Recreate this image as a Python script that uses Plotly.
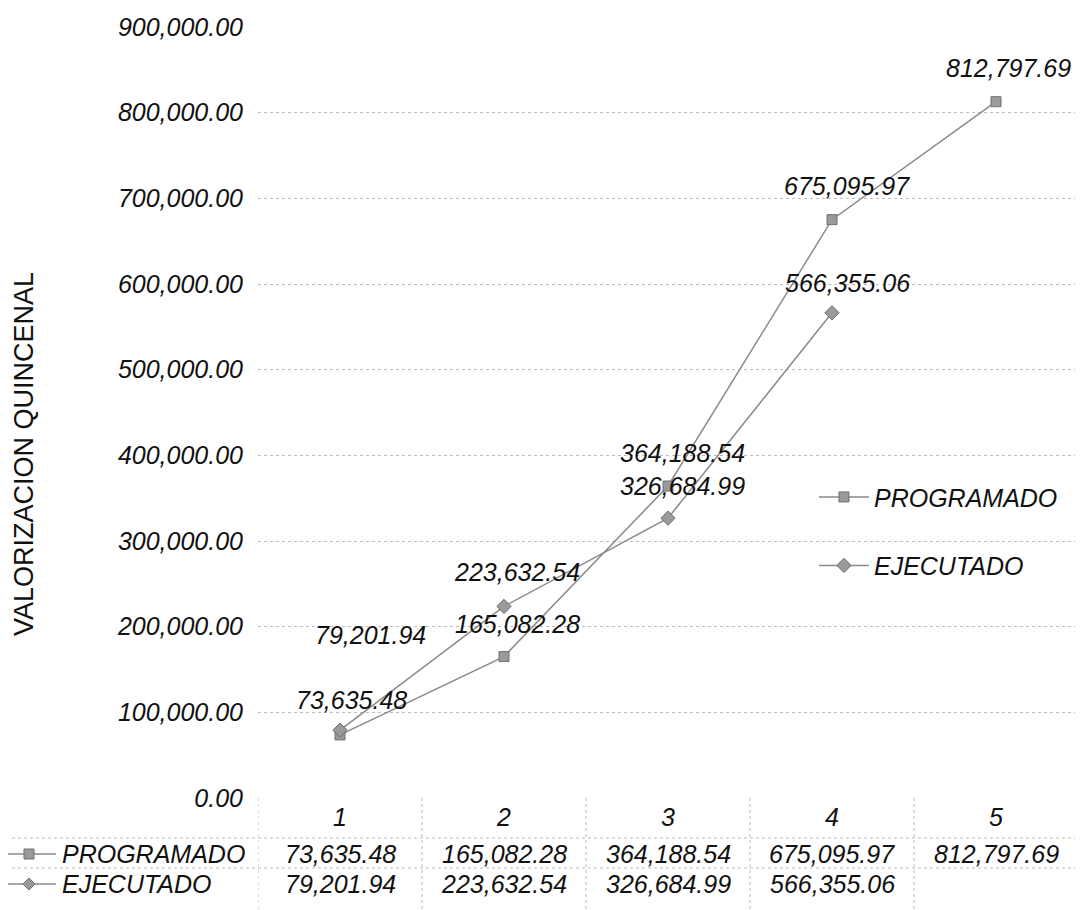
import plotly.graph_objects as go

# ---- data ----
categories = [1, 2, 3, 4, 5]
programado = [73635.48, 165082.28, 364188.54, 675095.97, 812797.69]
ejecutado = [79201.94, 223632.54, 326684.99, 566355.06]
series_names = ["PROGRAMADO", "EJECUTADO"]
y_ticks = [0, 100000, 200000, 300000, 400000, 500000, 600000, 700000, 800000, 900000]
y_title = "VALORIZACION QUINCENAL"

# label pixel offsets (style)
prog_shift = [(11, 35), (13, 33), (14, 33), (15, 34), (12, 34)]
ejec_shift = [(30, 95), (13, 34), (14, 32), (15, 30)]

FONT = "Liberation Sans, Arial, sans-serif"
LINE_COL = "#8a8a8a"
MARK_COL = "#9a9a9a"
TXT = "#111111"

fig = go.Figure()
fig.add_trace(go.Scatter(
    x=categories, y=programado, name=series_names[0], mode="lines+markers",
    line=dict(color=LINE_COL, width=1.5),
    marker=dict(symbol="square", size=10, color=MARK_COL, line=dict(color="#6f6f6f", width=1)),
    legendgroup="p"))
fig.add_trace(go.Scatter(
    x=categories[:len(ejecutado)], y=ejecutado, name=series_names[1], mode="lines+markers",
    line=dict(color=LINE_COL, width=1.5),
    marker=dict(symbol="diamond", size=11, color=MARK_COL, line=dict(color="#6f6f6f", width=1)),
    legendgroup="e"))

ann = []
# data labels
for xv, yv, (dx, dy) in zip(categories, programado, prog_shift):
    ann.append(dict(x=xv, y=yv, xref="x", yref="y", text=f"{yv:,.2f}", showarrow=False,
                    xshift=dx, yshift=dy, font=dict(family=FONT, size=25, color=TXT, style="italic")))
for xv, yv, (dx, dy) in zip(categories, ejecutado, ejec_shift):
    ann.append(dict(x=xv, y=yv, xref="x", yref="y", text=f"{yv:,.2f}", showarrow=False,
                    xshift=dx, yshift=dy, font=dict(family=FONT, size=25, color=TXT, style="italic")))

# data table rows
rows = [(series_names[0], programado, -56), (series_names[1], ejecutado, -86)]
for name, vals, yoff in rows:
    for xv, v in zip(categories, vals):
        ann.append(dict(x=xv, y=0, xref="x", yref="paper", text=f"{v:,.2f}", showarrow=False,
                        yshift=yoff, yanchor="middle",
                        font=dict(family=FONT, size=25, color=TXT, style="italic")))
    ann.append(dict(x=0, y=0, xref="paper", yref="paper", text=name, showarrow=False,
                    xshift=-198, yshift=yoff, xanchor="left", yanchor="middle",
                    font=dict(family=FONT, size=25, color=TXT, style="italic")))

# y axis title
ann.append(dict(x=0, y=0, xref="paper", yref="paper", text=y_title, showarrow=False,
                textangle=-90, xshift=-234, yshift=344, xanchor="center", yanchor="middle",
                font=dict(family=FONT, size=27, color=TXT)))

shapes = []
dotted = dict(color="#bdbdbd", width=1, dash="dot")
# table horizontal lines
for yoff in (-40, -70):
    shapes.append(dict(type="line", xref="paper", yref="paper", x0=-0.3, x1=1.0,
                       ysizemode="pixel", yanchor=0, y0=yoff, y1=yoff, line=dotted))
# table vertical lines
for xb in [c - 0.5 for c in categories] + [categories[-1] + 0.5]:
    shapes.append(dict(type="line", xref="x", yref="paper", x0=xb, x1=xb,
                       ysizemode="pixel", yanchor=0, y0=0, y1=-112, line=dotted))
# legend keys in table
for yoff, sym in ((-56, "sq"), (-86, "di")):
    shapes.append(dict(type="line", xref="paper", yref="paper", xsizemode="pixel", xanchor=0,
                       x0=-254, x1=-202, ysizemode="pixel", yanchor=0, y0=yoff, y1=yoff,
                       line=dict(color=LINE_COL, width=1.5)))
    if sym == "sq":
        shapes.append(dict(type="rect", xref="paper", yref="paper", xsizemode="pixel", xanchor=0,
                           x0=-234, x1=-224, ysizemode="pixel", yanchor=0, y0=yoff - 5, y1=yoff + 5,
                           fillcolor=MARK_COL, line=dict(color="#6f6f6f", width=1)))
    else:
        shapes.append(dict(type="path", xref="paper", yref="paper", xsizemode="pixel", xanchor=0,
                           ysizemode="pixel", yanchor=0,
                           path=f"M -235,{yoff} L -229,{yoff+6} L -223,{yoff} L -229,{yoff-6} Z",
                           fillcolor=MARK_COL, line=dict(color="#6f6f6f", width=1)))

fig.update_layout(
    width=1075, height=902,
    margin=dict(l=250, r=5, t=16, b=112),
    paper_bgcolor="white", plot_bgcolor="white",
    font=dict(family=FONT, size=25, color=TXT),
    showlegend=True,
    legend=dict(x=0.678, y=0.42, xanchor="left", yanchor="top", bgcolor="rgba(0,0,0,0)",
                font=dict(family=FONT, size=25, color=TXT, style="italic"),
                tracegroupgap=33, traceorder="grouped", itemwidth=50),
    xaxis=dict(range=[0.5, 5.5], tickvals=categories, ticktext=[str(c) for c in categories],
               showgrid=False, zeroline=False, showline=False, ticks="",
               tickfont=dict(family=FONT, size=25, color=TXT, style="italic"),
               ticklabelstandoff=2),
    yaxis=dict(range=[0, 900000], tickvals=y_ticks, tickformat=",.2f",
               showgrid=True, gridcolor="#bdbdbd", griddash="dot", gridwidth=1,
               zeroline=False, showline=False, ticks="",
               tickfont=dict(family=FONT, size=25, color=TXT, style="italic"),
               ticklabelstandoff=14),
    annotations=ann, shapes=shapes,
)

fig.write_html("out.html")
